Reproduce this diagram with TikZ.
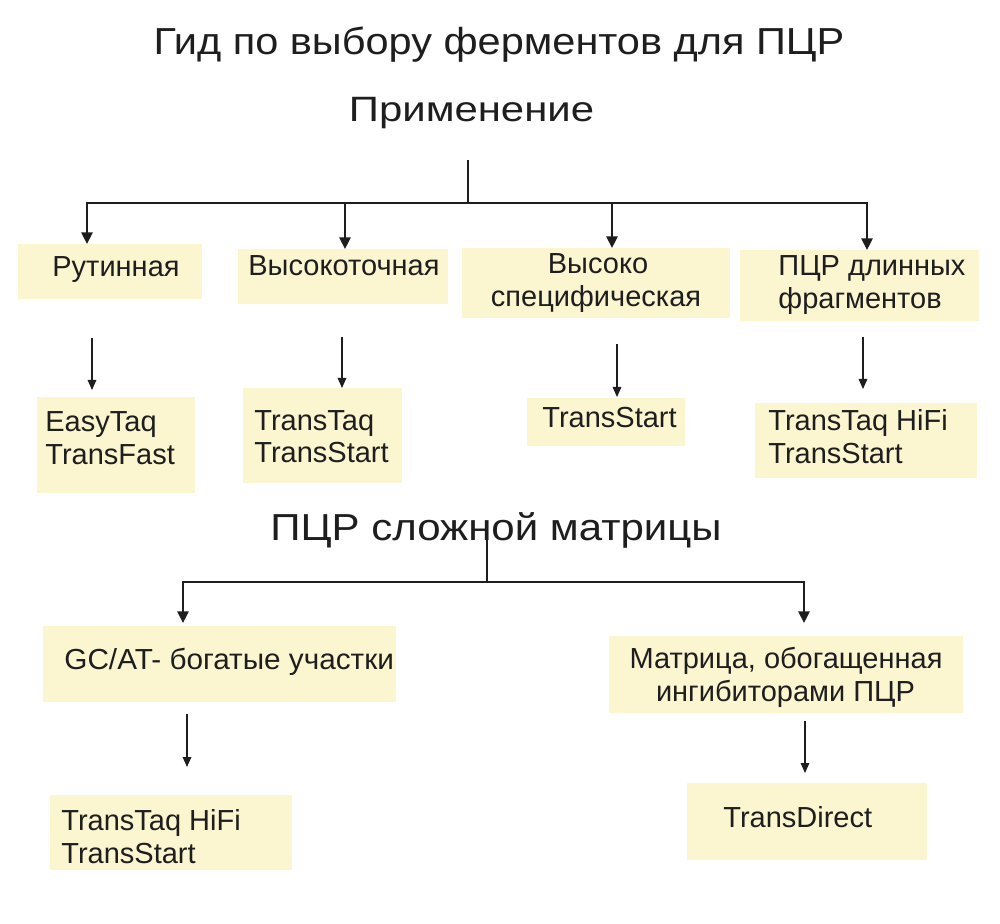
\documentclass[tikz,border=0pt]{standalone}
\usepackage{fontspec}
\usepackage{graphicx}
\setmainfont{Liberation Sans}
\usetikzlibrary{arrows.meta}
\definecolor{boxfill}{HTML}{FBF5D0}
\definecolor{ink}{HTML}{1E1E1E}
\begin{document}
\begin{tikzpicture}[x=0.5pt,y=-0.5pt,
  box/.style={fill=boxfill, draw=none, inner sep=0pt, outer sep=0pt},
  txt/.style={font=\fontsize{14.5}{17}\selectfont, text=ink, inner sep=0pt, anchor=base west},
  ctxt/.style={txt, anchor=base},
  bigtitle/.style={font=\fontsize{18.8}{22}\selectfont, text=ink, inner sep=0pt, anchor=base},
  trunk/.style={draw=ink, line width=1pt},
  bigarr/.style={trunk, -{Triangle[length=5.8pt,width=5.6pt]}},
  smallarr/.style={draw=ink, line width=0.65pt, -{Triangle[length=5pt,width=4.3pt]}}]
\useasboundingbox (0,0) rectangle (1000,924);
\fill[white] (0,0) rectangle (1000,924);

% titles
\node[bigtitle] (title) at (499,55) {\scalebox{1.104}[1]{Гид по выбору ферментов для ПЦР}};
\node[bigtitle, font=\fontsize{17.6}{21}\selectfont] (appl) at (471.5,122) {\scalebox{1.19}[1]{Применение}};
\node[bigtitle] (complex) at (496,540) {\scalebox{1.117}[1]{ПЦР сложной матрицы}};

% boxes, first tree
\node[box, minimum width=92pt, minimum height=27.5pt] (rut) at (110,271.5) {};
\node[box, minimum width=105pt, minimum height=27.5pt] (vys) at (343,276.5) {};
\node[box, minimum width=134pt, minimum height=35pt] (spec) at (596,283) {};
\node[box, minimum width=119.5pt, minimum height=35.5pt] (long) at (859.5,285.5) {};
\node[box, minimum width=79pt, minimum height=48pt] (easy) at (116,445) {};
\node[box, minimum width=79.5pt, minimum height=47.5pt] (ttaq) at (322.5,435.5) {};
\node[box, minimum width=79pt, minimum height=24pt] (tstart) at (606,422) {};
\node[box, minimum width=111pt, minimum height=37.5pt] (hifi) at (866,440.5) {};

% boxes, second tree
\node[box, minimum width=176.5pt, minimum height=38pt] (gcat) at (219.5,664) {};
\node[box, minimum width=177pt, minimum height=38.5pt] (matr) at (786,674.5) {};
\node[box, minimum width=121pt, minimum height=37.5pt] (hifitwo) at (171,832.5) {};
\node[box, minimum width=120pt, minimum height=38.5pt] (tdir) at (807,821.5) {};

% texts
\node[txt] (rutA) at (52,277) {Рутинная};
\node[txt] (vysA) at (248,276) {Высокоточная};
\node[ctxt] (specA) at (598,274) {Высоко};
\node[ctxt] (specB) at (596,307) {специфическая};
\node[txt] (longA) at (778,276) {ПЦР длинных};
\node[txt] (longB) at (778,309) {фрагментов};
\node[txt] (easyA) at (45,432) {EasyTaq};
\node[txt] (easyB) at (45,465) {TransFast};
\node[txt] (ttaqA) at (254,430) {TransTaq};
\node[txt] (ttaqB) at (254,463) {TransStart};
\node[txt] (tstartA) at (542,428) {TransStart};
\node[txt] (hifiA) at (768,430) {TransTaq HiFi};
\node[txt] (hifiB) at (768,464) {TransStart};
\node[txt] (gcatA) at (64,669) {\scalebox{1.025}[1]{GC/AT- богатые участки}};
\node[ctxt] (matrA) at (786,668) {Матрица, обогащенная};
\node[ctxt] (matrB) at (785.5,701) {ингибиторами ПЦР};
\node[txt] (hifitwoA) at (61,830) {TransTaq HiFi};
\node[txt] (hifitwoB) at (61,863) {TransStart};
\node[txt] (tdirA) at (723,827) {TransDirect};

% first tree connectors
\coordinate (t1) at (468,160);
\coordinate (j1) at (468,203);
\draw[trunk] (t1) -- (j1);
\draw[bigarr] (j1) -| ([xshift=-11.5pt]rut.north);
\draw[bigarr] (j1) -| ([xshift=1pt]vys.north);
\draw[bigarr] (j1) -| ([xshift=8pt]spec.north);
\draw[bigarr] (j1) -| ([xshift=3.75pt]long.north);

\draw[smallarr, shorten <=19.5pt, shorten >=3.5pt] (92,0 |- rut.south) -- (92,0 |- easy.north);
\draw[smallarr, shorten <=16.5pt] (342,0 |- vys.south) -- (342,0 |- ttaq.north);
\draw[smallarr, shorten <=13pt, shorten >=0.5pt] (617,0 |- spec.south) -- (617,0 |- tstart.north);
\draw[smallarr, shorten <=8pt, shorten >=7pt] (863,0 |- long.south) -- (863,0 |- hifi.north);

% second tree connectors
\coordinate (t2) at (487,533);
\coordinate (j2) at (487,582);
\draw[trunk] (t2) -- (j2);
\draw[bigarr, shorten >=1.5pt] (j2) -| ([xshift=-18.25pt]gcat.north);
\draw[bigarr, shorten >=6.5pt] (j2) -| ([xshift=9pt]matr.north);

\draw[smallarr, shorten <=6pt, shorten >=14pt] (187,0 |- gcat.south) -- (187,0 |- hifitwo.north);
\draw[smallarr, shorten <=4pt, shorten >=5pt] (805,0 |- matr.south) -- (805,0 |- tdir.north);
\end{tikzpicture}
\end{document}
